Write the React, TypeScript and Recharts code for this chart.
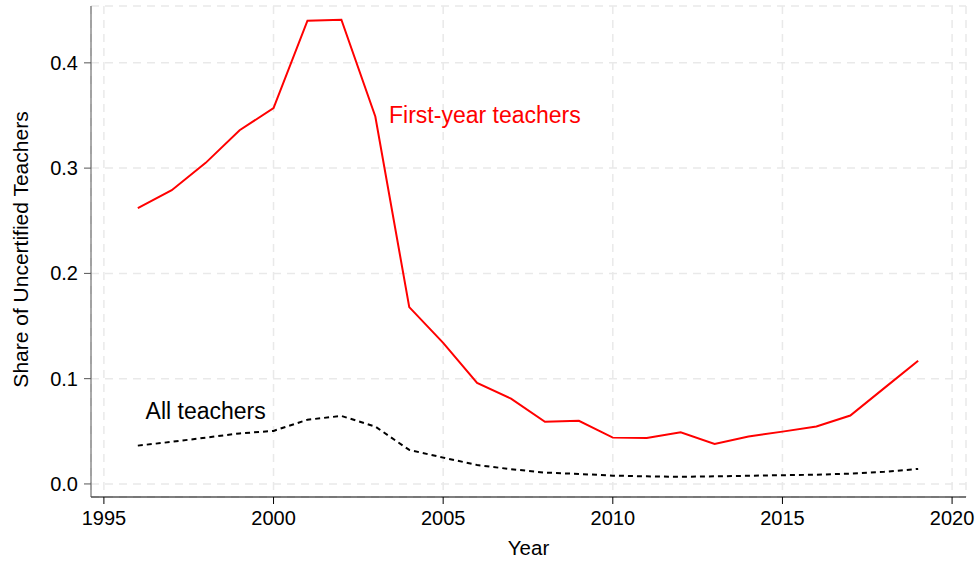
import { LineChart, Line, XAxis, YAxis, CartesianGrid, ReferenceDot } from 'recharts';

const years = [1996, 1997, 1998, 1999, 2000, 2001, 2002, 2003, 2004, 2005, 2006, 2007, 2008, 2009, 2010, 2011, 2012, 2013, 2014, 2015, 2016, 2017, 2018, 2019];
const firstYear = [0.262, 0.279, 0.305, 0.336, 0.357, 0.440, 0.441, 0.349, 0.168, 0.134, 0.096, 0.081, 0.059, 0.060, 0.044, 0.0437, 0.049, 0.038, 0.045, 0.0497, 0.0545, 0.065, 0.091, 0.117];
const allTeachers = [0.0364, 0.040, 0.044, 0.048, 0.0504, 0.061, 0.0646, 0.0545, 0.0323, 0.025, 0.018, 0.014, 0.0108, 0.0095, 0.0079, 0.0072, 0.0068, 0.0072, 0.0078, 0.0083, 0.0088, 0.0098, 0.0115, 0.0143];
const xTicks = [1995, 2000, 2005, 2010, 2015, 2020];
const yTicks = [0, 0.1, 0.2, 0.3, 0.4];

const data = years.map((year, i) => ({ year, first: firstYear[i], all: allTeachers[i] }));

const FONT = '"Liberation Sans", Arial, Helvetica, sans-serif';

export default function App() {
  return (
    <div style={{ position: 'absolute', left: 0, top: 0, width: 980, height: 563, background: '#fff', fontFamily: FONT }}>
      <LineChart width={980} height={563} data={data} margin={{ top: 6, right: 14, left: 0, bottom: 0 }}>
        <CartesianGrid stroke="#e9e9e9" strokeWidth={1.5} strokeDasharray="8 6" />
        <XAxis
          dataKey="year"
          type="number"
          domain={[1994.62, 2020.41]}
          ticks={xTicks}
          allowDataOverflow
          height={66}
          tickSize={7}
          tickMargin={7}
          stroke="#000"
          tick={{ fill: '#000', fontSize: 20, fontFamily: FONT }}
          label={{ value: 'Year', position: 'insideBottom', offset: 8, fill: '#000', fontSize: 20.5, fontFamily: FONT }}
        />
        <YAxis
          type="number"
          domain={[-0.0124, 0.454]}
          ticks={yTicks}
          allowDataOverflow
          width={91}
          tickSize={7}
          tickMargin={6}
          stroke="#555"
          tickFormatter={(v: number) => v.toFixed(1)}
          tick={{ fill: '#000', fontSize: 20, fontFamily: FONT }}
          label={{ value: 'Share of Uncertified Teachers', angle: -90, position: 'center', dx: -25, dy: -2, fill: '#000', fontSize: 21, fontFamily: FONT }}
        />
        <Line dataKey="first" stroke="#ff0000" strokeWidth={2} dot={false} isAnimationActive={false} />
        <Line dataKey="all" stroke="#000" strokeWidth={2} strokeDasharray="5 4" dot={false} isAnimationActive={false} />
        <ReferenceDot x={2006.23} y={0.3505} r={0} fill="none" stroke="none"
          label={{ value: 'First-year teachers', fill: '#ff0000', fontSize: 23, fontFamily: FONT }} />
        <ReferenceDot x={1998.0} y={0.0694} r={0} fill="none" stroke="none"
          label={{ value: 'All teachers', fill: '#000', fontSize: 23, fontFamily: FONT }} />
      </LineChart>
    </div>
  );
}
